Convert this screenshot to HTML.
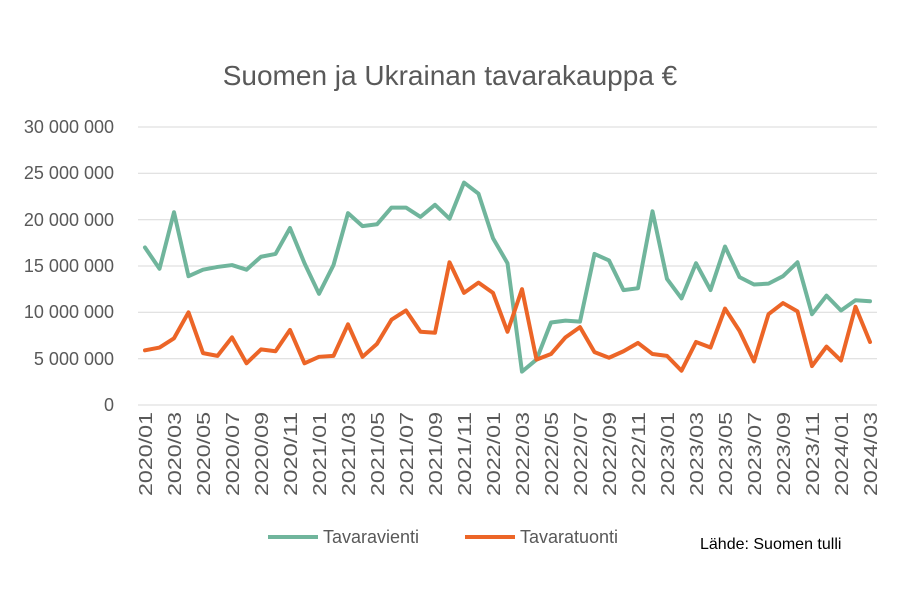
<!DOCTYPE html>
<html><head><meta charset="utf-8"><style>
body{margin:0;background:#fff;}
svg{display:block;font-family:"Liberation Sans","DejaVu Sans",sans-serif;}
</style></head><body>
<svg width="900" height="600" viewBox="0 0 900 600">
<rect width="900" height="600" fill="#fff"/>
<text x="450" y="85" text-anchor="middle" font-size="28" fill="#595959">Suomen ja Ukrainan tavarakauppa €</text>
<g stroke="#d9d9d9" stroke-width="1">
<line x1="138" x2="877" y1="127.0" y2="127.0"/>
<line x1="138" x2="877" y1="173.3" y2="173.3"/>
<line x1="138" x2="877" y1="219.7" y2="219.7"/>
<line x1="138" x2="877" y1="266.0" y2="266.0"/>
<line x1="138" x2="877" y1="312.3" y2="312.3"/>
<line x1="138" x2="877" y1="358.7" y2="358.7"/>
<line x1="138" x2="877" y1="405.0" y2="405.0"/>
</g>
<g font-size="18" fill="#595959" text-anchor="end">
<text x="114" y="133">30 000 000</text>
<text x="114" y="179">25 000 000</text>
<text x="114" y="226">20 000 000</text>
<text x="114" y="272">15 000 000</text>
<text x="114" y="318">10 000 000</text>
<text x="114" y="365">5 000 000</text>
<text x="114" y="411">0</text>
</g>
<g transform="translate(145,405) scale(14.5,-9.267)" fill="none" stroke-linejoin="round" stroke-linecap="round">
<polyline vector-effect="non-scaling-stroke" stroke="#70b59c" stroke-width="4" points="0,17.0 1,14.7 2,20.8 3,13.9 4,14.6 5,14.9 6,15.1 7,14.6 8,16.0 9,16.3 10,19.1 11,15.3 12,12.0 13,15.1 14,20.7 15,19.3 16,19.5 17,21.3 18,21.3 19,20.3 20,21.6 21,20.1 22,24.0 23,22.8 24,18.0 25,15.3 26,3.6 27,4.9 28,8.9 29,9.1 30,9.0 31,16.3 32,15.6 33,12.4 34,12.6 35,20.9 36,13.6 37,11.5 38,15.3 39,12.4 40,17.1 41,13.8 42,13.0 43,13.1 44,13.9 45,15.4 46,9.8 47,11.8 48,10.2 49,11.3 50,11.2"/>
<polyline vector-effect="non-scaling-stroke" stroke="#ec6527" stroke-width="4" points="0,5.9 1,6.2 2,7.2 3,10.0 4,5.6 5,5.3 6,7.3 7,4.5 8,6.0 9,5.8 10,8.1 11,4.5 12,5.2 13,5.3 14,8.7 15,5.2 16,6.6 17,9.2 18,10.2 19,7.9 20,7.8 21,15.4 22,12.1 23,13.2 24,12.1 25,7.9 26,12.5 27,4.9 28,5.5 29,7.3 30,8.4 31,5.7 32,5.1 33,5.8 34,6.7 35,5.5 36,5.3 37,3.7 38,6.8 39,6.2 40,10.4 41,8.0 42,4.7 43,9.8 44,11.0 45,10.1 46,4.2 47,6.3 48,4.8 49,10.6 50,6.8"/>
</g>
<line x1="268" x2="318" y1="537" y2="537" stroke="#70b59c" stroke-width="4"/>
<text x="323" y="543" font-size="18" fill="#595959">Tavaravienti</text>
<line x1="465" x2="515" y1="537" y2="537" stroke="#ec6527" stroke-width="4"/>
<text x="520" y="543" font-size="18" fill="#595959">Tavaratuonti</text>
<text x="700" y="549" font-size="16" fill="#000">Lähde: Suomen tulli</text>
<g font-size="18.5" fill="#595959" text-anchor="end">
<text textLength="84" lengthAdjust="spacingAndGlyphs" transform="translate(152,412) rotate(-90)">2020/01</text>
<text textLength="84" lengthAdjust="spacingAndGlyphs" transform="translate(181,412) rotate(-90)">2020/03</text>
<text textLength="84" lengthAdjust="spacingAndGlyphs" transform="translate(210,412) rotate(-90)">2020/05</text>
<text textLength="84" lengthAdjust="spacingAndGlyphs" transform="translate(239,412) rotate(-90)">2020/07</text>
<text textLength="84" lengthAdjust="spacingAndGlyphs" transform="translate(268,412) rotate(-90)">2020/09</text>
<text textLength="84" lengthAdjust="spacingAndGlyphs" transform="translate(297,412) rotate(-90)">2020/11</text>
<text textLength="84" lengthAdjust="spacingAndGlyphs" transform="translate(326,412) rotate(-90)">2021/01</text>
<text textLength="84" lengthAdjust="spacingAndGlyphs" transform="translate(355,412) rotate(-90)">2021/03</text>
<text textLength="84" lengthAdjust="spacingAndGlyphs" transform="translate(384,412) rotate(-90)">2021/05</text>
<text textLength="84" lengthAdjust="spacingAndGlyphs" transform="translate(413,412) rotate(-90)">2021/07</text>
<text textLength="84" lengthAdjust="spacingAndGlyphs" transform="translate(442,412) rotate(-90)">2021/09</text>
<text textLength="84" lengthAdjust="spacingAndGlyphs" transform="translate(471,412) rotate(-90)">2021/11</text>
<text textLength="84" lengthAdjust="spacingAndGlyphs" transform="translate(500,412) rotate(-90)">2022/01</text>
<text textLength="84" lengthAdjust="spacingAndGlyphs" transform="translate(529,412) rotate(-90)">2022/03</text>
<text textLength="84" lengthAdjust="spacingAndGlyphs" transform="translate(558,412) rotate(-90)">2022/05</text>
<text textLength="84" lengthAdjust="spacingAndGlyphs" transform="translate(587,412) rotate(-90)">2022/07</text>
<text textLength="84" lengthAdjust="spacingAndGlyphs" transform="translate(616,412) rotate(-90)">2022/09</text>
<text textLength="84" lengthAdjust="spacingAndGlyphs" transform="translate(645,412) rotate(-90)">2022/11</text>
<text textLength="84" lengthAdjust="spacingAndGlyphs" transform="translate(674,412) rotate(-90)">2023/01</text>
<text textLength="84" lengthAdjust="spacingAndGlyphs" transform="translate(703,412) rotate(-90)">2023/03</text>
<text textLength="84" lengthAdjust="spacingAndGlyphs" transform="translate(732,412) rotate(-90)">2023/05</text>
<text textLength="84" lengthAdjust="spacingAndGlyphs" transform="translate(761,412) rotate(-90)">2023/07</text>
<text textLength="84" lengthAdjust="spacingAndGlyphs" transform="translate(790,412) rotate(-90)">2023/09</text>
<text textLength="84" lengthAdjust="spacingAndGlyphs" transform="translate(819,412) rotate(-90)">2023/11</text>
<text textLength="84" lengthAdjust="spacingAndGlyphs" transform="translate(848,412) rotate(-90)">2024/01</text>
<text textLength="84" lengthAdjust="spacingAndGlyphs" transform="translate(877,412) rotate(-90)">2024/03</text>
</g>
</svg>
</body></html>
